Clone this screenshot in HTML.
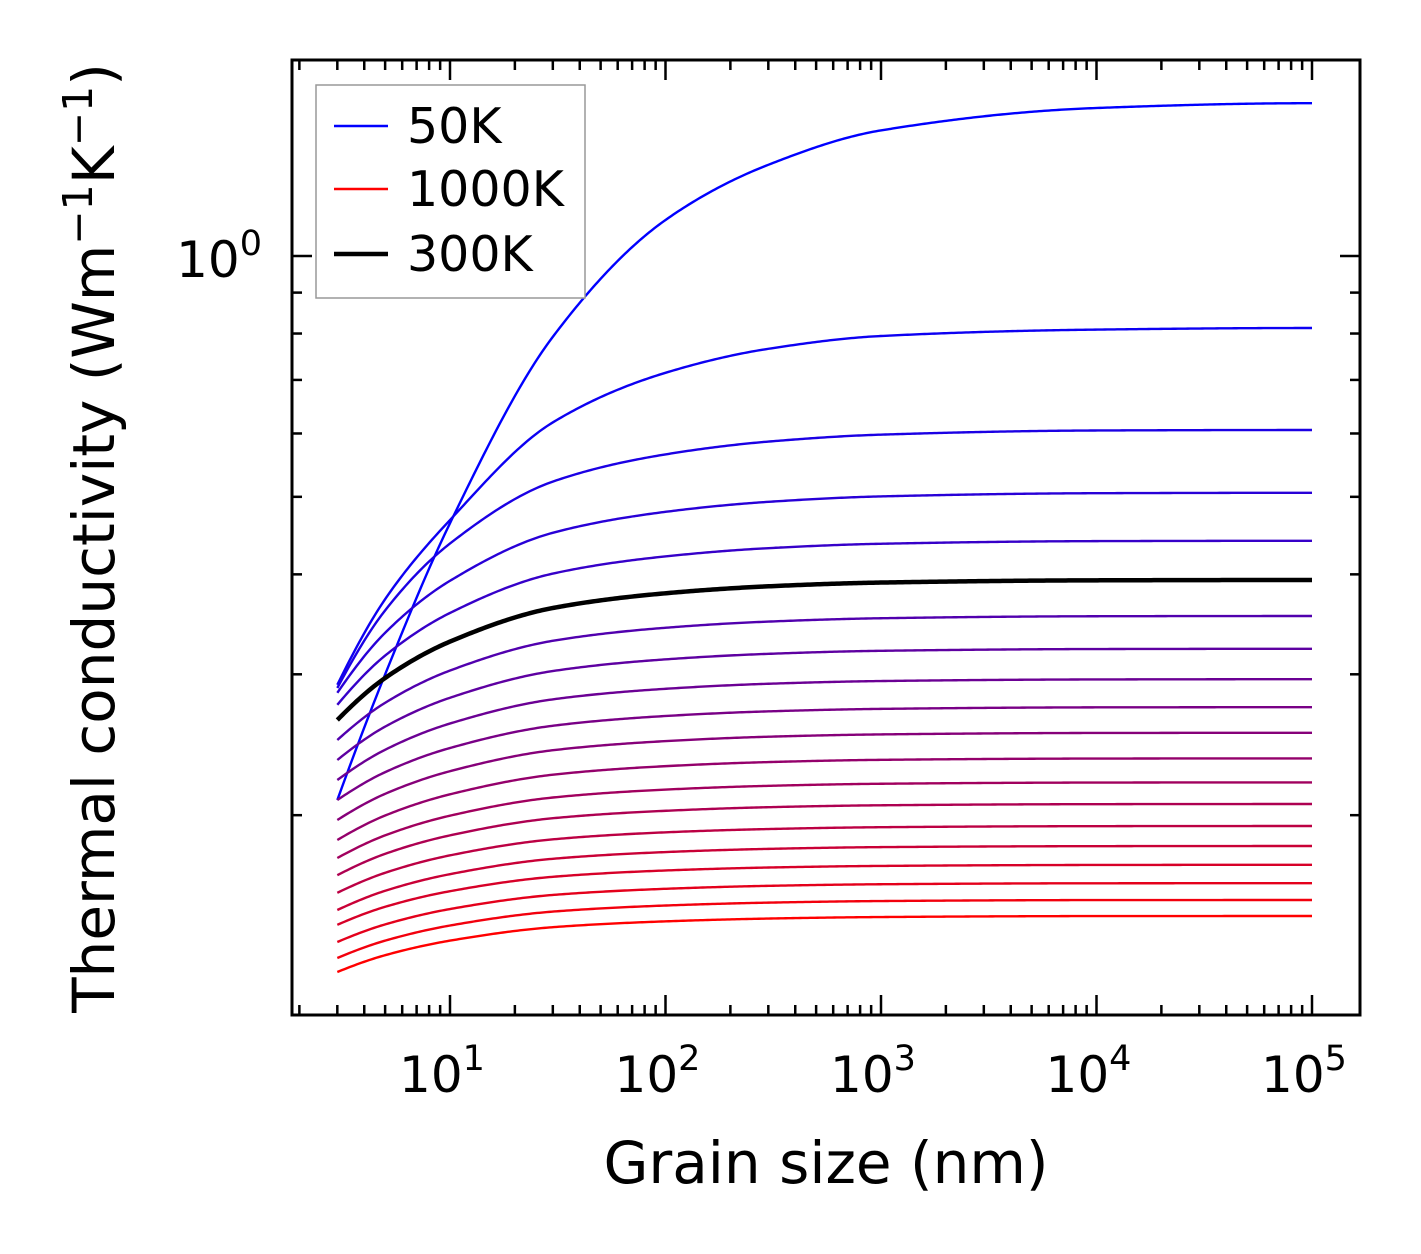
<!DOCTYPE html>
<html><head><meta charset="utf-8"><style>
html,body{margin:0;padding:0;background:#fff;}
svg{display:block;font-family:"DejaVu Sans","Liberation Sans",sans-serif;}
</style></head><body>
<svg id="chart" width="1421" height="1254" viewBox="0 0 1421 1254" xmlns="http://www.w3.org/2000/svg">
<rect x="0" y="0" width="1421" height="1254" fill="#fff"/>
<g id="curves"></g>
<g id="ticks"></g>
<rect x="292" y="60" width="1068" height="955" fill="none" stroke="#000" stroke-width="3"/>
<g id="xlabels" font-size="50" text-anchor="middle"></g>
<text x="262" y="277" font-size="50" text-anchor="end">10<tspan dy="-22" font-size="35">0</tspan></text>
<text x="826" y="1183" font-size="58" text-anchor="middle">Grain size (nm)</text>
<text transform="translate(114,538) rotate(-90)" font-size="58" text-anchor="middle">Thermal conductivity (Wm<tspan dy="-22" font-size="41">−1</tspan><tspan dy="22">K</tspan><tspan dy="-22" font-size="41">−1</tspan><tspan dy="22">)</tspan></text>
<g>
<rect x="316" y="85" width="269" height="213" fill="#fff" stroke="#999" stroke-width="1.5"/>
<line x1="334" y1="126" x2="388" y2="126" stroke="#0000ff" stroke-width="2.4"/>
<text x="407" y="143" font-size="49">50K</text>
<line x1="334" y1="189" x2="388" y2="189" stroke="#ff0000" stroke-width="2.4"/>
<text x="407" y="206" font-size="49">1000K</text>
<line x1="334" y1="254" x2="388" y2="254" stroke="#000" stroke-width="4.5"/>
<text x="407" y="271" font-size="49">300K</text>
</g>
</svg>
<script>
// grain sizes (nm) at which values are read
const grainSizes = [3, 5, 10, 30, 100, 300, 1000, 10000, 100000];
// temperatures (K)
const temperatures = [50,100,150,200,250,300,350,400,450,500,550,600,650,700,750,800,850,900,950,1000];
// log10 of thermal conductivity at each grain size, one value per temperature
const log10K_3nm    = [-0.680,-0.536,-0.540,-0.546,-0.561,-0.580,-0.605,-0.630,-0.655,-0.680,-0.705,-0.730,-0.7525,-0.774,-0.796,-0.8175,-0.836,-0.8575,-0.8775,-0.895];
const log10K_5nm    = [-0.523,-0.429,-0.443,-0.471,-0.4995,-0.5275,-0.5585,-0.5883,-0.6172,-0.6452,-0.6723,-0.6994,-0.7242,-0.7473,-0.771,-0.7935,-0.8135,-0.8355,-0.8558,-0.874];
const log10K_10nm   = [-0.334,-0.330,-0.3594,-0.406,-0.4462,-0.482,-0.5182,-0.5522,-0.5844,-0.615,-0.644,-0.6729,-0.6996,-0.7242,-0.7492,-0.7727,-0.794,-0.8163,-0.8369,-0.8558];
const log10K_30nm   = [-0.101,-0.208,-0.282,-0.346,-0.397,-0.440,-0.481,-0.5188,-0.5542,-0.5872,-0.6178,-0.6484,-0.6769,-0.7028,-0.7292,-0.7535,-0.776,-0.7987,-0.8195,-0.839];
const log10K_100nm  = [0.045,-0.146,-0.248,-0.3198,-0.3755,-0.4216,-0.4647,-0.5042,-0.541,-0.575,-0.6064,-0.6377,-0.667,-0.6935,-0.7204,-0.7451,-0.7681,-0.791,-0.8119,-0.8317];
const log10K_300nm  = [0.114,-0.116,-0.232,-0.3073,-0.3652,-0.4129,-0.457,-0.4973,-0.5347,-0.5692,-0.6009,-0.6326,-0.6623,-0.689,-0.7163,-0.7411,-0.7644,-0.7873,-0.8083,-0.8282];
const log10K_1000nm = [0.157,-0.100,-0.2233,-0.3005,-0.3597,-0.4082,-0.4528,-0.4935,-0.5313,-0.5661,-0.598,-0.6298,-0.6597,-0.6866,-0.714,-0.7389,-0.7624,-0.7853,-0.8063,-0.8263];
const log10K_1e4nm  = [0.185,-0.092,-0.2181,-0.2965,-0.3564,-0.4054,-0.4503,-0.4913,-0.5293,-0.5642,-0.5962,-0.6282,-0.6582,-0.6852,-0.7127,-0.7377,-0.7612,-0.7841,-0.8051,-0.8251];
const log10K_1e5nm  = [0.191,-0.090,-0.2175,-0.296,-0.356,-0.405,-0.450,-0.491,-0.529,-0.564,-0.596,-0.628,-0.658,-0.685,-0.7125,-0.7375,-0.761,-0.784,-0.805,-0.825];
const xTickExps = [1,2,3,4,5];
const highlightT = 300;

const NS = "http://www.w3.org/2000/svg";
const X0 = 450, XD = 215.5;
const Y0 = 256, YD = 800;
const xsLog = lg => X0 + (lg - 1) * XD;
const ysLog = lg => Y0 - lg * YD;

function mk(tag, attrs){ const e = document.createElementNS(NS, tag); for (const k in attrs) e.setAttribute(k, attrs[k]); return e; }

// PCHIP interpolation
function pchip(xv, yv){
  const n = xv.length, h=[], d=[], m=new Array(n);
  for (let i=0;i<n-1;i++){ h.push(xv[i+1]-xv[i]); d.push((yv[i+1]-yv[i])/h[i]); }
  for (let i=1;i<n-1;i++){
    if (d[i-1]*d[i]<=0) m[i]=0;
    else { const w1=2*h[i]+h[i-1], w2=h[i]+2*h[i-1]; m[i]=(w1+w2)/(w1/d[i-1]+w2/d[i]); }
  }
  const end = (h0,h1,d0,d1) => { let v=((2*h0+h1)*d0-h0*d1)/(h0+h1); if (v*d0<=0) v=0; else if (d0*d1<=0 && Math.abs(v)>Math.abs(3*d0)) v=3*d0; return v; };
  m[0]=end(h[0],h[1],d[0],d[1]); m[n-1]=end(h[n-2],h[n-3],d[n-2],d[n-3]);
  return x => {
    let i=0; while(i<n-2 && x>xv[i+1]) i++;
    const hh=h[i], t=(x-xv[i])/hh;
    const h00=2*t*t*t-3*t*t+1,h10=t*t*t-2*t*t+t,h01=-2*t*t*t+3*t*t,h11=t*t*t-t*t;
    return h00*yv[i]+h10*hh*m[i]+h01*yv[i+1]+h11*hh*m[i+1];
  };
}

const curvesG = document.getElementById('curves');
const cols = [log10K_3nm,log10K_5nm,log10K_10nm,log10K_30nm,log10K_100nm,log10K_300nm,log10K_1000nm,log10K_1e4nm,log10K_1e5nm];
const lx = grainSizes.map(v=>Math.log10(v));
let blackPath = null;
temperatures.forEach((T, i) => {
  const vals = cols.map(c => c[i]);
  const f = pchip(lx, vals);
  let d = "";
  const N = 400;
  for (let k=0;k<=N;k++){
    const lg = lx[0] + (lx[lx.length-1]-lx[0])*k/N;
    d += (k?"L":"M") + xsLog(lg).toFixed(2) + "," + ysLog(f(lg)).toFixed(2);
  }
  const frac = i/(temperatures.length-1);
  const isHi = T === highlightT;
  const color = isHi ? "#000" : `rgb(${Math.round(255*frac)},0,${Math.round(255*(1-frac))})`;
  const p = mk('path', {d, fill:'none', stroke:color, 'stroke-width': isHi?4.5:2.4, 'stroke-linejoin':'round'});
  
  
  if (isHi) blackPath = p; else curvesG.appendChild(p);
});
if (blackPath) curvesG.appendChild(blackPath);

const tg = document.getElementById('ticks');
const xMinLg = Math.log10(1.9), xMaxLg = 5.22;
for (let e=0;e<=5;e++){
  for (let m=1;m<=9;m++){
    const lg = e + Math.log10(m);
    if (lg < xMinLg || lg > xMaxLg) continue;
    const x = xsLog(lg), len = m===1?20:10;
    const t1 = mk('line',{x1:x,y1:1015,x2:x,y2:1015-len,stroke:'#000','stroke-width':2.5});
    
    
    tg.appendChild(t1);
    const t2 = mk('line',{x1:x,y1:60,x2:x,y2:60+len,stroke:'#000','stroke-width':2.5});
    
    
    tg.appendChild(t2);
  }
}
for (let m=2;m<=10;m++){
  const lg = Math.log10(m/10);
  const y = ysLog(lg), len = m===10?20:10;
  const a = mk('line',{x1:292,y1:y,x2:292+len,y2:y,stroke:'#000','stroke-width':2.5});
  
  
  tg.appendChild(a);
  const b = mk('line',{x1:1360,y1:y,x2:1360-len,y2:y,stroke:'#000','stroke-width':2.5});
  
  
  tg.appendChild(b);
}
const xl = document.getElementById('xlabels');
xTickExps.forEach(e => {
  const t = mk('text',{x:xsLog(e)-8,y:1092});
  
  
  t.innerHTML = '10<tspan dy="-22" font-size="35">'+e+'</tspan>';
  xl.appendChild(t);
});
</script>
</body></html>
